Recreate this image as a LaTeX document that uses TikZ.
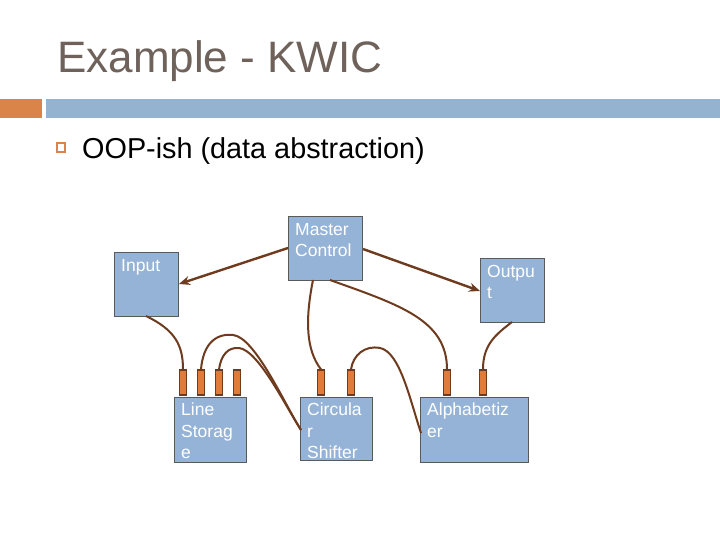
\documentclass[tikz,border=0pt]{standalone}
\usepackage{fontspec}
\setmainfont{Liberation Sans}
\usetikzlibrary{arrows.meta}
\definecolor{titlec}{HTML}{6E625B}
\definecolor{barorange}{HTML}{DA8449}
\definecolor{barblue}{HTML}{94B3D1}
\definecolor{boxfill}{HTML}{95B3D7}
\definecolor{boxline}{HTML}{5A5A5A}
\definecolor{portfill}{HTML}{E07B39}
\definecolor{brownc}{HTML}{6E3B1E}
\tikzset{
  modbox/.style={draw=boxline, line width=1pt, fill=boxfill, rectangle, anchor=north west, inner sep=0pt},
  boxtext/.style={anchor=north west, inner sep=0pt, text=white, align=left, font=\fontsize{17.5}{21.5}\selectfont},
  portbox/.style={draw=brownc, line width=1.6pt, fill=portfill, rectangle, minimum width=7pt, minimum height=25pt, inner sep=0pt, anchor=south},
  conn/.style={draw=brownc, line width=2pt},
  arr/.style={draw=brownc, line width=2.4pt, -{Stealth[length=11pt,width=9pt]}}
}
\begin{document}
\begin{tikzpicture}[x=1pt,y=-1pt]
\useasboundingbox (0,0) rectangle (720,540);
\fill[white] (0,0) rectangle (720,540);
% title
\node[anchor=base west, inner sep=0pt, text=titlec, font=\fontsize{44}{50}\selectfont] (title) at (57,73) {Example - KWIC};
\fill[barorange] (0,99) rectangle (42,118);
\fill[barblue] (46,99) rectangle (720,118);
% bullet
\draw[barorange, line width=1.3pt] (57,143) rectangle (65,152);
\node[anchor=base west, inner sep=0pt, font=\fontsize{28.8}{34}\selectfont] (bullet) at (82,159) {OOP-ish (data abstraction)};
% boxes
\node[modbox, minimum width=74pt, minimum height=64pt] (mc) at (288,216) {};
\node[boxtext] at ([shift={(7,7)}]mc.north west) {Master\\Control};
\node[modbox, minimum width=64pt, minimum height=64pt] (in) at (114,252) {};
\node[boxtext] at ([shift={(7,7)}]in.north west) {Input};
\node[modbox, minimum width=64pt, minimum height=64pt] (out) at (480,258) {};
\node[boxtext] at ([shift={(7,7)}]out.north west) {Outpu\\t};
\node[modbox, minimum width=72pt, minimum height=65pt] (ls) at (174,397) {};
\node[boxtext] at ([shift={(7,6)}]ls.north west) {Line\\Storag\\e};
\node[modbox, minimum width=72pt, minimum height=63pt] (cs) at (300,397) {};
\node[boxtext] at ([shift={(7,6)}]cs.north west) {Circula\\r\\Shifter};
\node[modbox, minimum width=108pt, minimum height=65pt] (al) at (420,397) {};
\node[boxtext] at ([shift={(7,6)}]al.north west) {Alphabetiz\\er};
% ports
\node[portbox] (ls1) at (183,396) {};
\node[portbox] (ls2) at (201,396) {};
\node[portbox] (ls3) at (219,396) {};
\node[portbox] (ls4) at (237,396) {};
\node[portbox] (cs1) at (321,396) {};
\node[portbox] (cs2) at (351,396) {};
\node[portbox] (al1) at (447,396) {};
\node[portbox] (al2) at (483,396) {};
% anchors for connectors
\coordinate (csl) at (301,430);
\coordinate (all) at (421,433);
% arrows
\draw[arr] (mc.west |- 0,248) -- (in.east |- 0,284);
\draw[arr] (mc.east |- 0,249) -- (out.west |- 0,291);
% connectors
\draw[conn] (146,316) .. controls (175,330) and (183,345) .. (ls1.north);
\draw[conn] (ls2.north) .. controls (203,345) and (215,333) .. (233,335) .. controls (255,337) and (285,405) .. (csl);
\draw[conn] (ls3.north) .. controls (221,355) and (228,347) .. (239,348) .. controls (258,350) and (285,405) .. (csl);
\draw[conn] (313,280) .. controls (305,320) and (306,350) .. (cs1.north);
\draw[conn] (cs2.north) .. controls (353,355) and (365,345) .. (380,348) .. controls (400,352) and (410,400) .. (all);
\draw[conn] (330,280) .. controls (400,305) and (447,320) .. (al1.north);
\draw[conn] (512,322) .. controls (495,335) and (483,345) .. (al2.north);
\end{tikzpicture}
\end{document}
